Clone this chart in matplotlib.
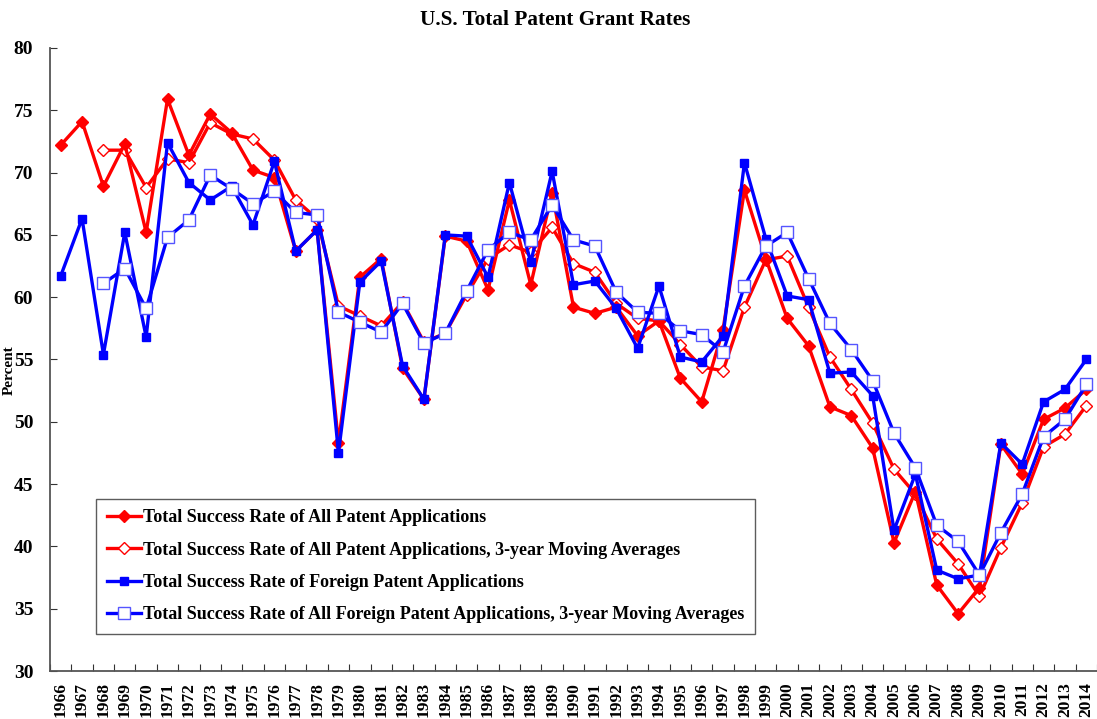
import matplotlib
matplotlib.use("Agg")
import matplotlib.pyplot as plt
import numpy as np

plt.rcParams['font.family'] = ['Liberation Serif', 'DejaVu Serif']
plt.rcParams['font.weight'] = 'bold'

years = list(range(1966, 2015))

# Total success rate of all patent applications
all_rate = [72.2, 74.1, 68.9, 72.3, 65.2, 75.9, 71.4, 74.7, 73.2, 70.2,
            69.6, 63.7, 65.4, 48.3, 61.6, 63.1, 54.3, 51.8, 64.9, 64.5,
            60.6, 67.8, 61.0, 68.4, 59.2, 58.7, 59.2, 56.9, 58.1, 53.5,
            51.6, 57.4, 68.6, 63.1, 58.3, 56.1, 51.2, 50.5, 47.9, 40.3,
            44.4, 36.9, 34.6, 36.7, 48.2, 45.8, 50.2, 51.1, 52.6]

# 3-year moving averages (start in 1968)
all_ma = [None, None, 71.8, 71.8, 68.8, 71.1, 70.8, 74.0, 73.1, 72.7,
          71.0, 67.8, 66.3, 59.3, 58.5, 57.7, 59.6, 56.4, 57.1, 60.2,
          63.1, 64.2, 63.6, 65.6, 62.7, 62.0, 59.5, 58.3, 58.1, 56.2,
          54.4, 54.1, 59.2, 63.0, 63.3, 59.2, 55.2, 52.6, 49.9, 46.2,
          44.2, 40.6, 38.6, 36.0, 39.9, 43.5, 48.0, 49.0, 51.3]

# Total success rate of foreign patent applications
foreign_rate = [61.7, 66.3, 55.4, 65.2, 56.8, 72.4, 69.2, 67.8, 68.9, 65.8,
                70.9, 63.7, 65.4, 47.5, 61.2, 62.9, 54.5, 51.8, 65.0, 64.9,
                61.6, 69.2, 62.8, 70.1, 61.0, 61.3, 59.1, 55.9, 60.9, 55.2,
                54.8, 56.9, 70.8, 64.7, 60.1, 59.8, 53.9, 54.0, 52.1, 41.3,
                45.8, 38.1, 37.4, 37.7, 48.3, 46.6, 51.6, 52.6, 55.0]

foreign_ma = [None, None, 61.1, 62.3, 59.1, 64.8, 66.2, 69.8, 68.7, 67.5,
              68.5, 66.8, 66.6, 58.8, 58.0, 57.2, 59.5, 56.3, 57.1, 60.5,
              63.8, 65.2, 64.6, 67.4, 64.6, 64.1, 60.4, 58.8, 58.7, 57.3,
              57.0, 55.6, 60.9, 64.1, 65.2, 61.5, 57.9, 55.8, 53.3, 49.1,
              46.3, 41.7, 40.4, 37.7, 41.1, 44.2, 48.8, 50.2, 53.0]

labels = ["Total Success Rate of All Patent Applications",
          "Total Success Rate of All Patent Applications, 3-year Moving Averages",
          "Total Success Rate of Foreign Patent Applications",
          "Total Success Rate of All Foreign Patent Applications, 3-year Moving Averages"]


def toArr(vals):
    return np.array([np.nan if v is None else v for v in vals], dtype=float)


fig = plt.figure(figsize=(10.97, 7.19), dpi=100)
ax = fig.add_axes([50 / 1097, 48 / 719, 1047 / 1097, 623 / 719])

x = np.arange(len(years))
ax.plot(x, toArr(all_rate), color='#ff0000', lw=2.4, marker='D', ms=6.5,
        mfc='#ff0000', mec='#ff0000', label=labels[0], zorder=3)
ax.plot(x, toArr(all_ma), color='#ff0000', lw=2.4, marker='D', ms=6.5,
        mfc='white', mec='#ff0000', mew=1.0, label=labels[1], zorder=2)
ax.plot(x, toArr(foreign_rate), color='#0000ff', lw=2.4, marker='s', ms=6,
        mfc='#0000ff', mec='#0000ff', label=labels[2], zorder=4)
ax.plot(x, toArr(foreign_ma), color='#0000ff', lw=2.4, marker='s', ms=9,
        mfc='white', mec='#5555ff', mew=1.0, label=labels[3], zorder=5)

ax.set_xlim(-0.5, len(years) - 0.5)
ax.set_ylim(30, 80)
ax.set_yticks(range(30, 81, 5))

# boundary ticks, labels centred between them
ax.set_xticks(np.arange(-0.5, len(years), 1.0))
ax.set_xticklabels([])
ax.set_xticks(x, minor=True)
ax.set_xticklabels([str(y) for y in years], minor=True, rotation=90,
                   fontsize=12.5, fontweight='bold')
ax.tick_params(axis='x', which='major', direction='in', length=5, color='#333333')
ax.tick_params(axis='x', which='minor', length=0, pad=8)
ax.tick_params(axis='y', direction='in', length=5, pad=12, labelsize=14,
               color='#333333')
for t in ax.get_yticklabels():
    t.set_fontweight('bold')

for s in ['top', 'right']:
    ax.spines[s].set_visible(False)
for s in ['left', 'bottom']:
    ax.spines[s].set_color('#555555')
    ax.spines[s].set_linewidth(1.3)

fig.text(555 / 1097, 1 - 20 / 719, "U.S. Total Patent Grant Rates",
         ha='center', va='center', fontsize=15.3, fontweight='bold')
fig.text(9 / 1097, 1 - 370 / 719, "Percent", rotation=90,
         ha='center', va='center', fontsize=11, fontweight='bold')

leg = ax.legend(loc='lower left', bbox_to_anchor=(0.044, 0.059),
                borderaxespad=0, fancybox=False, edgecolor='#333333',
                prop={'weight': 'bold', 'size': 13}, handlelength=1.9,
                handletextpad=0.1, labelspacing=0.85, borderpad=0.6)
leg.get_frame().set_linewidth(1.0)
for h in leg.get_lines():
    h.set_linewidth(2.4)

fig.savefig("out.png", dpi=100)
